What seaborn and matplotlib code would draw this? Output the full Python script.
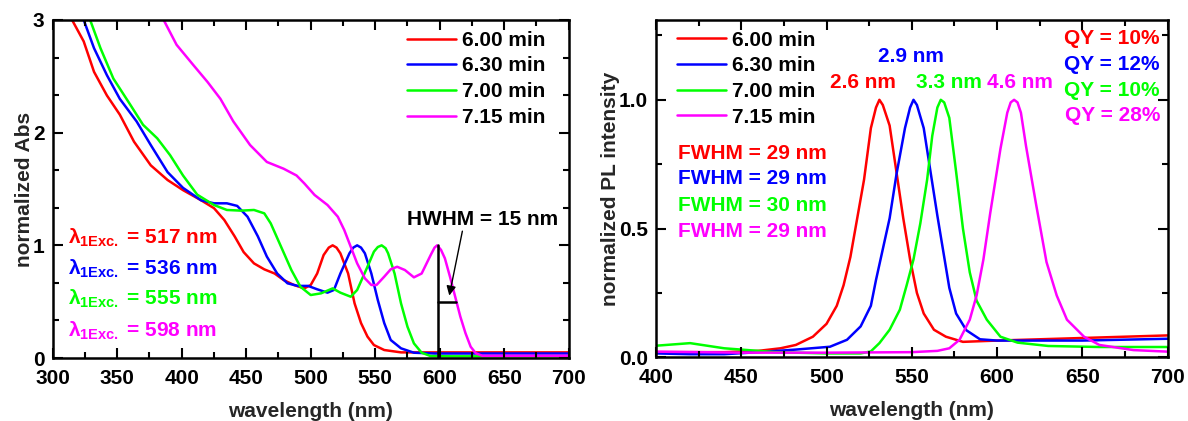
import numpy as np
import pandas as pd
import matplotlib
matplotlib.use("Agg")
import matplotlib.pyplot as plt
from matplotlib.ticker import MultipleLocator
import seaborn as sns

# ---------------- data ----------------
series_labels = ["6.00 min", "6.30 min", "7.00 min", "7.15 min"]
series_colors = ["#ff0000", "#0000ff", "#00ff00", "#ff00ff"]

# absorbance
abs_wl_600 = [315, 324, 332, 342, 352, 363, 376, 389, 401, 415, 425, 433, 441, 448, 456, 464, 472, 479, 487, 495,
              500, 505, 510, 514, 517, 520, 523, 529, 534, 539, 544, 549, 557, 570, 600, 650, 700]
abs_600 = [3.0, 2.81, 2.54, 2.33, 2.16, 1.92, 1.71, 1.58, 1.49, 1.40, 1.33, 1.225, 1.08, 0.94, 0.84, 0.787, 0.75,
           0.692, 0.648, 0.618, 0.648, 0.75, 0.914, 0.98, 1.0, 0.98, 0.929, 0.75, 0.485, 0.31, 0.19, 0.115, 0.071,
           0.05, 0.05, 0.05, 0.05]
abs_wl_630 = [324, 332, 342, 352, 365, 376, 389, 401, 415, 425, 435, 443, 451, 459, 466, 474, 482, 490, 498, 505,
              513, 518, 523, 530, 533, 536, 539, 542, 547, 552, 557, 562, 570, 580, 596, 650, 700]
abs_630 = [3.0, 2.75, 2.51, 2.30, 2.10, 1.89, 1.65, 1.51, 1.40, 1.373, 1.373, 1.35, 1.254, 1.08, 0.90, 0.75, 0.663,
           0.64, 0.64, 0.61, 0.58, 0.604, 0.75, 0.929, 0.98, 1.0, 0.98, 0.929, 0.75, 0.515, 0.31, 0.16, 0.086, 0.047,
           0.04, 0.04, 0.04]
abs_wl_700 = [329, 337, 347, 360, 370, 381, 391, 401, 412, 425, 435, 446, 456, 464, 469, 477, 485, 492, 500, 508,
              517, 523, 531, 536, 544, 549, 552, 555, 558, 560, 565, 570, 575, 580, 586, 593, 610, 700]
abs_700 = [3.0, 2.75, 2.48, 2.25, 2.07, 1.95, 1.80, 1.62, 1.45, 1.358, 1.314, 1.308, 1.314, 1.284, 1.195, 0.988,
           0.781, 0.633, 0.559, 0.574, 0.618, 0.58, 0.544, 0.604, 0.81, 0.944, 0.985, 1.0, 0.975, 0.929, 0.75, 0.485,
           0.278, 0.13, 0.047, 0.017, 0.015, 0.015]
abs_wl_715 = [386, 396, 409, 420, 430, 440, 453, 466, 479, 489, 495, 503, 513, 521, 526, 531, 536, 542, 547, 551,
              557, 562, 567, 573, 580, 586, 593, 596, 598, 601, 604, 608, 612, 616, 620, 624, 628, 633, 650, 700]
abs_715 = [3.0, 2.78, 2.60, 2.45, 2.30, 2.10, 1.89, 1.74, 1.68, 1.62, 1.55, 1.447, 1.358, 1.254, 1.136, 0.988, 0.84,
           0.707, 0.648, 0.648, 0.722, 0.787, 0.81, 0.781, 0.716, 0.75, 0.914, 0.98, 1.0, 0.96, 0.885, 0.72, 0.544,
           0.367, 0.22, 0.10, 0.042, 0.02, 0.02, 0.02]

# photoluminescence
pl_wl_600 = [400, 420, 440, 460, 473, 482, 492, 500, 506, 510, 514, 518, 522, 526, 529, 531, 533, 537, 541, 545,
             549, 553, 557, 563, 570, 580, 600, 650, 700]
pl_600 = [0.02, 0.02, 0.02, 0.025, 0.035, 0.048, 0.08, 0.13, 0.20, 0.28, 0.39, 0.54, 0.69, 0.89, 0.97, 1.0, 0.98,
          0.90, 0.72, 0.54, 0.38, 0.25, 0.17, 0.107, 0.08, 0.06, 0.065, 0.075, 0.085]
pl_wl_630 = [400, 420, 440, 460, 482, 502, 512, 520, 526, 529, 533, 537, 541, 546, 549, 551, 553, 557, 561, 565,
             569, 572, 576, 582, 590, 600, 650, 700]
pl_630 = [0.015, 0.012, 0.012, 0.02, 0.03, 0.041, 0.068, 0.12, 0.20, 0.30, 0.42, 0.54, 0.71, 0.89, 0.97, 1.0, 0.98,
          0.89, 0.72, 0.55, 0.39, 0.27, 0.17, 0.105, 0.07, 0.065, 0.065, 0.072]
pl_wl_700 = [400, 410, 420, 430, 440, 450, 470, 500, 520, 526, 531, 537, 543, 547, 551, 555, 559, 562, 565, 567,
             569, 572, 576, 580, 584, 588, 594, 602, 612, 630, 660, 700]
pl_700 = [0.045, 0.05, 0.055, 0.045, 0.035, 0.03, 0.02, 0.015, 0.015, 0.023, 0.055, 0.107, 0.185, 0.28, 0.38, 0.52,
          0.69, 0.86, 0.97, 1.0, 0.99, 0.93, 0.72, 0.50, 0.33, 0.22, 0.146, 0.08, 0.057, 0.044, 0.04, 0.04]
pl_wl_715 = [400, 450, 500, 550, 565, 572, 578, 584, 588, 592, 596, 602, 606, 608, 610, 612, 614, 617, 623, 629,
             635, 641, 651, 660, 680, 700]
pl_715 = [0.022, 0.018, 0.018, 0.02, 0.025, 0.035, 0.068, 0.146, 0.24, 0.38, 0.56, 0.81, 0.95, 0.99, 1.0, 0.99,
          0.95, 0.82, 0.59, 0.37, 0.24, 0.146, 0.08, 0.048, 0.028, 0.022]

exc_labels = ["517 nm", "536 nm", "555 nm", "598 nm"]
fwhm_labels = ["FWHM = 29 nm", "FWHM = 29 nm", "FWHM = 30 nm", "FWHM = 29 nm"]
qy_labels = ["QY = 10%", "QY = 12%", "QY = 10%", "QY = 28%"]
shift_labels = ["2.6 nm", "2.9 nm", "3.3 nm", "4.6 nm"]
hwhm_x = [599, 599, 599, 613]
hwhm_y = [0.0, 1.0, 0.5, 0.5]

# ---------------- style ----------------
sns.set_theme(style="ticks")
plt.rcParams["font.family"] = ["Liberation Sans", "DejaVu Sans"]
plt.rcParams.update({
    "font.weight": "bold",
    "axes.labelweight": "bold",
    "font.size": 15,
    "axes.labelsize": 15,
    "xtick.labelsize": 15,
    "ytick.labelsize": 15,
    "mathtext.fontset": "custom",
    "mathtext.rm": "Liberation Sans:bold",
    "mathtext.bf": "Liberation Sans:bold",
    "mathtext.it": "Liberation Sans:bold",
    "axes.linewidth": 1.8,
    "axes.edgecolor": "black",
    "axes.axisbelow": False,
    "xtick.color": "black",
    "ytick.color": "black",
    "text.color": "black",
    "xtick.direction": "in",
    "ytick.direction": "in",
    "xtick.top": True,
    "ytick.right": True,
    "xtick.major.size": 7,
    "ytick.major.size": 7,
    "xtick.minor.size": 4,
    "ytick.minor.size": 4,
    "xtick.major.width": 1.5,
    "ytick.major.width": 1.5,
    "xtick.minor.width": 1.5,
    "ytick.minor.width": 1.5,
    "xtick.minor.visible": True,
    "ytick.minor.visible": True,
})

def long_df(wls, vals):
    frames = []
    for lab, w, v in zip(series_labels, wls, vals):
        frames.append(pd.DataFrame({"wl": w, "val": v, "series": lab}))
    return pd.concat(frames, ignore_index=True)

abs_df = long_df([abs_wl_600, abs_wl_630, abs_wl_700, abs_wl_715], [abs_600, abs_630, abs_700, abs_715])
pl_df = long_df([pl_wl_600, pl_wl_630, pl_wl_700, pl_wl_715], [pl_600, pl_630, pl_700, pl_715])
palette = dict(zip(series_labels, series_colors))

fig = plt.figure(figsize=(11.88, 4.21), dpi=100)
ax1 = fig.add_axes([0.0444, 0.1496, 0.4343, 0.8029])
ax2 = fig.add_axes([0.5522, 0.1513, 0.4306, 0.8012])

sns.lineplot(data=abs_df, x="wl", y="val", hue="series", palette=palette, sort=False, estimator=None,
             linewidth=1.8, ax=ax1)
sns.lineplot(data=pl_df, x="wl", y="val", hue="series", palette=palette, sort=False, estimator=None,
             linewidth=1.8, ax=ax2)

def style_axes(ax, xlim, ylim, xmaj, xmin, ymaj, ymin):
    ax.set_xlim(*xlim)
    ax.set_ylim(*ylim)
    ax.xaxis.set_major_locator(MultipleLocator(xmaj))
    ax.xaxis.set_minor_locator(MultipleLocator(xmin))
    ax.yaxis.set_major_locator(MultipleLocator(ymaj))
    ax.yaxis.set_minor_locator(MultipleLocator(ymin))
    ax.set_axisbelow(False)
    ax.tick_params(axis="both", which="both", direction="in", top=True, right=True, bottom=True, left=True,
                   width=1.5, color="black", zorder=5)
    ax.tick_params(axis="both", which="major", length=7)
    ax.tick_params(axis="x", which="major", pad=8)
    ax.tick_params(axis="y", which="major", pad=6)
    ax.tick_params(axis="both", which="minor", length=4)
    for sp in ax.spines.values():
        sp.set_visible(True)
        sp.set_linewidth(1.8)
        sp.set_color("black")
        sp.set_zorder(6)
    ax.set_xlabel("wavelength (nm)", labelpad=10)

style_axes(ax1, (300, 700), (0, 3), 50, 25, 1, 1 / 3)
style_axes(ax2, (400, 700), (0, 1.31), 50, 25, 0.5, 0.25)
ax1.set_ylabel("normalized Abs", labelpad=-1)
ax2.set_ylabel("normalized PL intensity", labelpad=-1)

leg_kw = dict(frameon=False, handlelength=2.35, handletextpad=0.3, labelspacing=0.32, borderpad=0,
              borderaxespad=0, loc="upper left", prop={"weight": "bold", "size": 15})
h, l = ax1.get_legend_handles_labels()
ax1.legend(h, l, bbox_to_anchor=(0.686, 0.968), **leg_kw)
h, l = ax2.get_legend_handles_labels()
ax2.legend(h, l, bbox_to_anchor=(0.041, 0.968), **leg_kw)

# left panel annotations
exc_y = [1.018, 0.737, 0.47, 0.189]
for lab, col, y in zip(exc_labels, series_colors, exc_y):
    ax1.text(312, y, "λ$_{\\mathbf{1Exc.}}$ = " + lab, color=col, fontsize=15, fontweight="bold", va="baseline")

ax1.plot(hwhm_x[:2], hwhm_y[:2], color="black", lw=1.8)
ax1.plot(hwhm_x[2:], hwhm_y[2:], color="black", lw=1.8)
ax1.annotate("", xy=(607, 0.53), xytext=(618, 1.15),
             arrowprops=dict(arrowstyle="-|>", color="black", lw=1.0, mutation_scale=14))
ax1.text(575, 1.18, "HWHM = 15 nm", fontsize=15, fontweight="bold", va="baseline", ha="left")

# right panel annotations
fwhm_y = [0.771, 0.673, 0.569, 0.469]
for lab, col, y in zip(fwhm_labels, series_colors, fwhm_y):
    ax2.text(413, y, lab, color=col, fontsize=15, fontweight="bold", va="baseline")
qy_y = [1.216, 1.116, 1.016, 0.916]
for lab, col, y in zip(qy_labels, series_colors, qy_y):
    ax2.text(695.5, y, lab, color=col, fontsize=15, fontweight="bold", va="baseline", ha="right")
shift_x = [521.2, 549.3, 572.0, 613.4]
shift_y = [1.047, 1.148, 1.047, 1.047]
for lab, col, x, y in zip(shift_labels, series_colors, shift_x, shift_y):
    ax2.text(x, y, lab, color=col, fontsize=15, fontweight="bold", va="baseline", ha="center")

fig.savefig("out.png", dpi=100)
